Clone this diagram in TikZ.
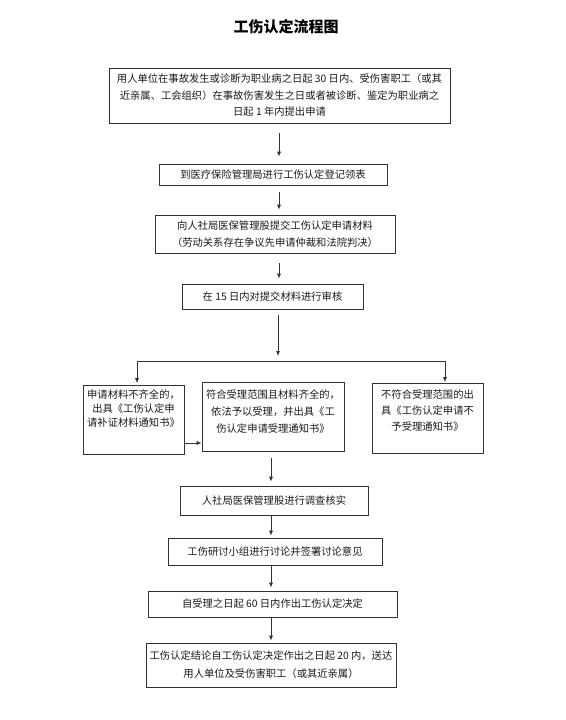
\documentclass[tikz,border=0pt]{standalone}
\usepackage{fontspec}
\setmainfont{Noto Sans CJK SC}
\usetikzlibrary{arrows.meta}

\begin{document}
\begin{tikzpicture}[x=1pt,y=-1pt,>={Latex[length=5pt,width=4pt]},
  box/.style={draw=black!80, line width=0.7pt, inner sep=0pt, align=center, text=black!90, font=\fontsize{10.3}{16.5}\selectfont},
  flow/.style={->, line width=0.7pt, black!80}]
\useasboundingbox (0,0) rectangle (565,720);

\node[font=\fontsize{15}{18}\selectfont\bfseries] (title) at (286,27) {工伤认定流程图};

\node[box, minimum width=341pt, minimum height=55pt] (apply) at (279.5,95.5)
  {用人单位在事故发生或诊断为职业病之日起 30 日内、受伤害职工（或其\\近亲属、工会组织）在事故伤害发生之日或者被诊断、鉴定为职业病之\\日起 1 年内提出申请};
\node[box, minimum width=228pt, minimum height=21pt] (register) at (273,174.5) {到医疗保险管理局进行工伤认定登记领表};
\node[box, minimum width=240pt, minimum height=38pt] (submit) at (275,234)
  {向人社局医保管理股提交工伤认定申请材料\\（劳动关系存在争议先申请仲裁和法院判决）};
\node[box, minimum width=181pt, minimum height=25pt] (review) at (272.5,296.5) {在 15 日内对提交材料进行审核};

\node[box, minimum width=101pt, minimum height=69pt] (missing) at (133.5,419.5)
  {\parbox[c][69pt][t]{101pt}{\centering\fontsize{10.3}{14}\selectfont\vspace*{5pt}申请材料不齐全的，\\出具《工伤认定申\\请补证材料通知书》}};
\node[box, minimum width=142pt, minimum height=69pt] (accept) at (273,416.5)
  {\parbox[c][69pt][t]{142pt}{\centering\fontsize{10.3}{17}\selectfont\vspace*{8pt}符合受理范围且材料齐全的，\\依法予以受理，并出具《工\\伤认定申请受理通知书》}};
\node[box, minimum width=111pt, minimum height=70pt] (reject) at (427.5,418)
  {\parbox[c][70pt][t]{111pt}{\centering\fontsize{10.3}{16}\selectfont\vspace*{7pt}不符合受理范围的出\\具《工伤认定申请不\\予受理通知书》}};

\node[box, minimum width=188pt, minimum height=29pt] (investigate) at (274,500.5) {人社局医保管理股进行调查核实};
\node[box, minimum width=214pt, minimum height=27pt] (discuss) at (275,551.5) {工伤研讨小组进行讨论并签署讨论意见};
\node[box, minimum width=249pt, minimum height=26pt] (decide) at (272.5,604) {自受理之日起 60 日内作出工伤认定决定};
\node[box, minimum width=250pt, minimum height=44pt, font=\fontsize{10.3}{18}\selectfont] (deliver) at (271,665)
  {工伤认定结论自工伤认定决定作出之日起 20 内，送达\\用人单位及受伤害职工（或其近亲属）};

% upper column
\coordinate (up) at (279,0);
\draw[flow, shorten <=10pt, shorten >=7pt] (apply.south -| up) -- (register.north -| up);
\draw[flow, shorten <=7pt, shorten >=5pt] (register.south -| up) -- (submit.north -| up);
\draw[flow, shorten <=10pt, shorten >=5pt] (submit.south -| up) -- (review.north -| up);

% branching
\coordinate (split) at (278,361);
\coordinate (lsplit) at (137,361);
\coordinate (rsplit) at (445,361);
\draw[flow, shorten <=6pt, shorten >=5pt] (review.south -| split) -- (split);
\draw[line width=0.7pt, black!80] (lsplit) -- (rsplit);
\draw[flow, shorten >=1.5pt] (lsplit) -- (lsplit |- missing.north);
\draw[flow, shorten >=0.5pt] (rsplit) -- (rsplit |- reject.north);
\draw[flow] ([yshift=-23.5pt]missing.east) -- ([yshift=-23.5pt]missing.east -| accept.west);

% lower column
\coordinate (lo) at (271,0);
\draw[flow, shorten <=7pt, shorten >=4pt] (accept.south -| lo) -- (investigate.north -| lo);
\draw[flow, shorten <=1pt, shorten >=2pt] (investigate.south -| lo) -- (discuss.north -| lo);
\draw[flow, shorten <=1pt, shorten >=3pt] (discuss.south -| lo) -- (decide.north -| lo);
\draw[flow, shorten <=1pt, shorten >=2pt] (decide.south -| lo) -- (deliver.north -| lo);
\end{tikzpicture}
\end{document}
